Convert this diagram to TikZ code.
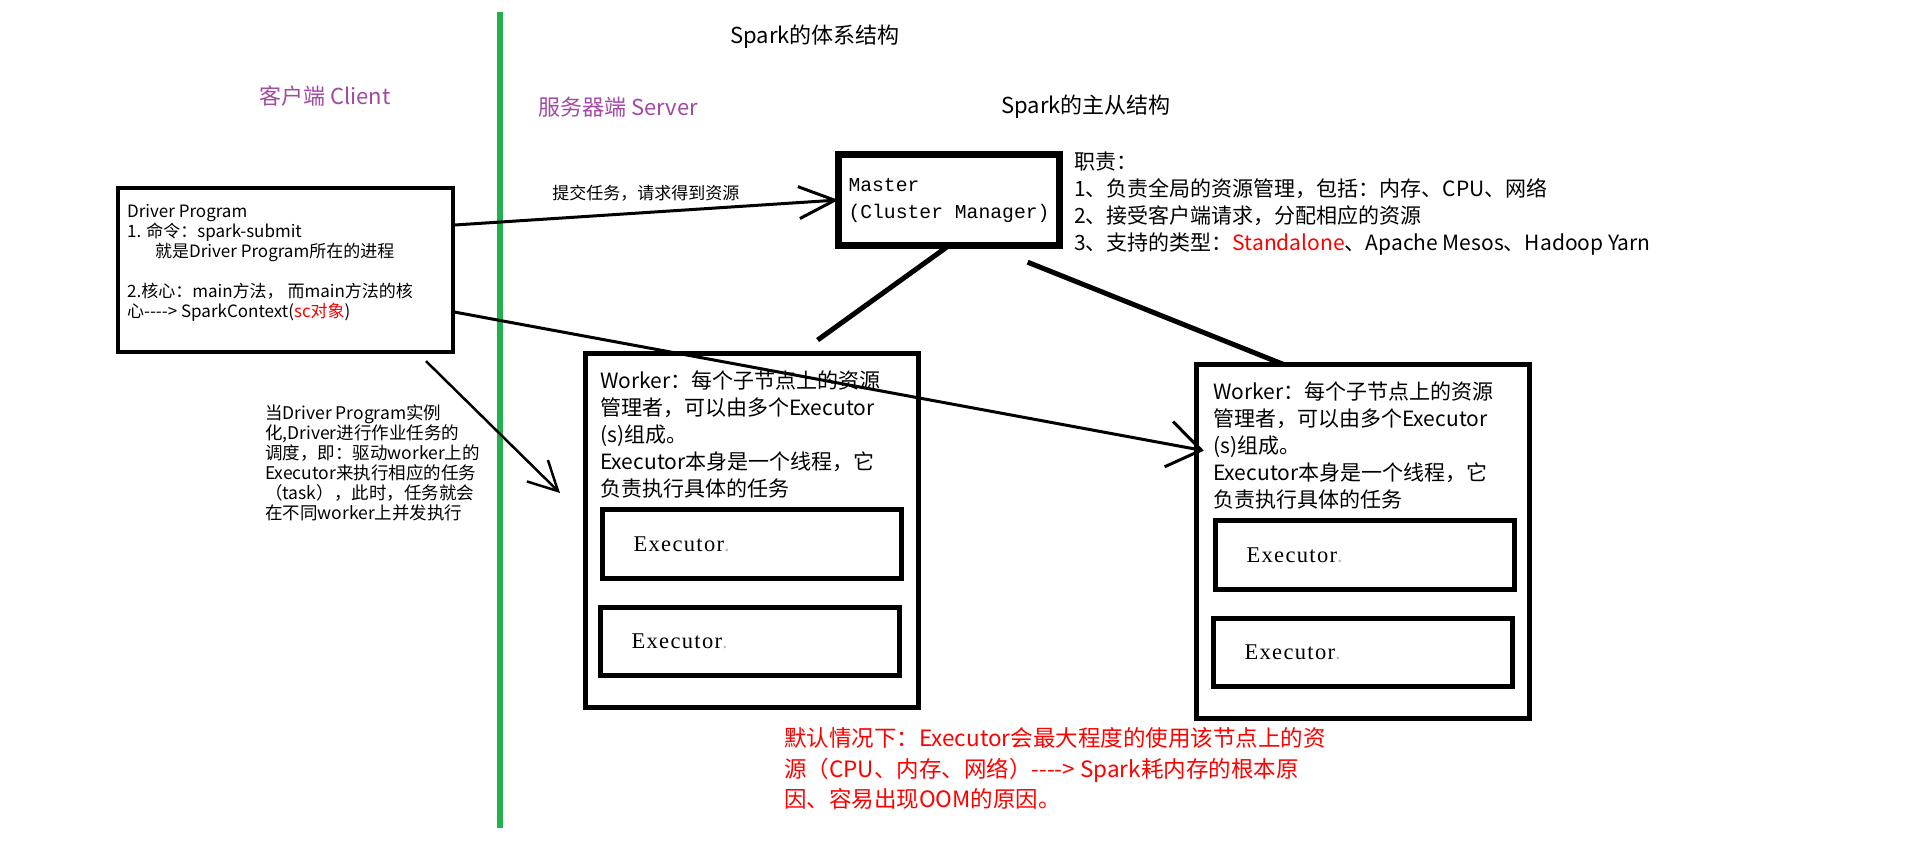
\documentclass[tikz,border=0pt]{standalone}
\usepackage{fontspec}
\setmainfont{Noto Sans CJK SC}
\newfontfamily\execfont{Liberation Serif}[LetterSpace=6]
\newfontfamily\monofont{Liberation Mono}
\usetikzlibrary{arrows.meta,positioning}
\definecolor{paintgreen}{RGB}{34,177,76}
\definecolor{paintpurple}{RGB}{163,73,164}
\newcommand\dashgt{-\kern0pt-\kern0pt-\kern0pt-\kern0pt>}

\begin{document}
\begin{tikzpicture}[x=1pt, y=-1pt,
  box/.style={draw, inner sep=0pt, outer sep=0pt},
  driverbox/.style={box, line width=4pt, minimum width=335pt, minimum height=164pt},
  masterbox/.style={box, line width=7pt, minimum width=221pt, minimum height=91pt,
    align=left, font=\monofont\fontsize{19.7}{27}\selectfont},
  workerbox/.style={box, line width=5pt, minimum width=333pt, minimum height=354pt},
  execbox/.style={box, line width=5pt, minimum width=299pt, minimum height=68.5pt,
    text width=237pt, inner xsep=31pt, font=\execfont\fontsize{22.5}{26}\selectfont},
  note/.style={anchor=west, align=left, inner sep=0pt},
  heading/.style={inner sep=0pt, font=\fontsize{22}{26}\selectfont},
  link/.style={line width=3pt},
  wire/.style={line width=5pt},
]
  \fill[white] (0,0) rectangle (1905,853);
  \useasboundingbox (0,0) rectangle (1905,853);

  % headings
  \node[heading] (title) at (815,37) {Spark的体系结构};
  \node[heading, text=paintpurple] (client) at (325,96) {客户端 Client};
  \node[heading, text=paintpurple] (server) at (618,107) {服务器端 Server};
  \node[heading] (masterslave) at (1086,107) {Spark的主从结构};

  % client / server border
  \draw[line width=6pt, paintgreen] (500,12) -- (500,828);

  % client side
  \node[driverbox] (driver) at (285.5,270) {};
  \node[note, font=\fontsize{17}{20}\selectfont] (drivertext) at (127,263)
    {Driver Program\\1. 命令：spark-submit\\\hspace*{28pt}就是Driver Program所在的进程\\[20pt]
     2.核心：main方法， 而main方法的核\\心\dashgt{} SparkContext(\textcolor{red}{sc对象})};
  \node[note, font=\fontsize{17.5}{20}\selectfont] (notetext) at (265,463)
    {当Driver Program实例\\化,Driver进行作业任务的\\调度，即：驱动worker上的\\
     Executor来执行相应的任务\\（task），此时，任务就会\\在不同worker上并发执行};

  % server side
  \node[masterbox] (master) at (949,200) {Master\\(Cluster Manager)};
  \node[note, font=\fontsize{21}{27}\selectfont] (duty) at (1074,204)
    {职责：\\1、负责全局的资源管理，包括：内存、CPU、网络\\2、接受客户端请求，分配相应的资源\\
     3、支持的类型：\textcolor{red}{Standalone}、Apache Mesos、Hadoop Yarn};

  \node[workerbox] (worker1) at (751.5,530.5) {};
  \node[workerbox] (worker2) at (1362.5,541.5) {};
  \node[note, font=\fontsize{21}{27}\selectfont] (w1text) at (600,434)
    {Worker：每个子节点上的资源\\管理者，可以由多个Executor\\(s)组成。\\Executor本身是一个线程，它\\负责执行具体的任务};
  \node[note, font=\fontsize{21}{27}\selectfont] (w2text) at (1213,445.5)
    {Worker：每个子节点上的资源\\管理者，可以由多个Executor\\(s)组成。\\Executor本身是一个线程，它\\负责执行具体的任务};

  \node[execbox] (exec1a) at (752,544) {Executor{\color{black!25}.}};
  \node[execbox] (exec1b) at (750,641.5) {Executor{\color{black!25}.}};
  \node[execbox] (exec2a) at (1365,555) {Executor{\color{black!25}.}};
  \node[execbox] (exec2b) at (1363,652.5) {Executor{\color{black!25}.}};

  \node[note, text=red, font=\fontsize{22.5}{30.5}\selectfont] (oomnote) at (784,768.5)
    {默认情况下：Executor会最大程度的使用该节点上的资\\源（CPU、内存、网络）\dashgt{} Spark耗内存的根本原\\因、容易出现OOM的原因。};

  % connectors
  \draw[link, -{Straight Barb[length=36pt, width=32pt]}] (driver.15) --
    node[midway, above=9pt, inner sep=1pt, font=\fontsize{17}{20}\selectfont] (submit) {提交任务，请求得到资源}
    (master.west);
  \draw[link, shorten >=-8pt, -{Straight Barb[length=33pt, width=46pt]}] (driver.-14) -- (worker2.151);
  \coordinate (notetip) at (560,493);
  \draw[line width=2.5pt, shorten <=13pt, -{Straight Barb[length=29pt, width=30pt]}] (driver.-32) -- (notetip);
  \draw[wire, shorten <=3pt, shorten >=23pt] (master.south) -- (worker1.75);
  \draw[wire, shorten <=45pt] (master.-51) -- (worker2.114);
\end{tikzpicture}
\end{document}
